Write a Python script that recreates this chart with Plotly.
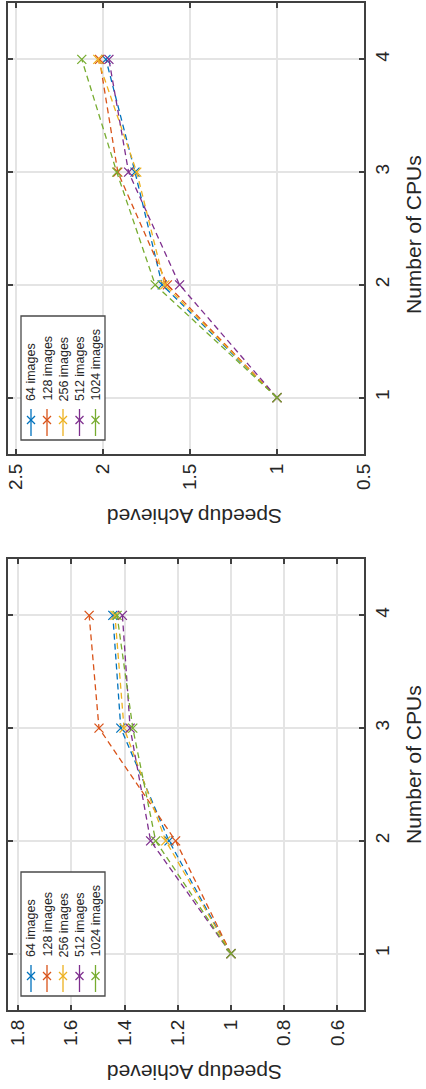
import plotly.graph_objects as go

# ---------------- data ----------------
cpus = [1, 2, 3, 4]
series_names = ["64 images", "128 images", "256 images", "512 images", "1024 images"]
colors = ["#0072BD", "#D95319", "#EDB120", "#7E2F8E", "#77AC30"]

# first experiment (lower panel)
speedup_a = {
    "64 images":   [1.0, 1.233, 1.414, 1.444],
    "128 images":  [1.0, 1.208, 1.496, 1.533],
    "256 images":  [1.0, 1.245, 1.402, 1.436],
    "512 images":  [1.0, 1.302, 1.379, 1.408],
    "1024 images": [1.0, 1.283, 1.369, 1.428],
}
# second experiment (upper panel)
speedup_b = {
    "64 images":   [1.0, 1.660, 1.816, 1.983],
    "128 images":  [1.0, 1.630, 1.915, 2.020],
    "256 images":  [1.0, 1.645, 1.806, 2.030],
    "512 images":  [1.0, 1.560, 1.853, 1.966],
    "1024 images": [1.0, 1.700, 1.921, 2.122],
}
ticks_a = [0.6, 0.8, 1.0, 1.2, 1.4, 1.6, 1.8]
ticklabels_a = ["0.6", "0.8", "1", "1.2", "1.4", "1.6", "1.8"]
ticks_b = [0.5, 1.0, 1.5, 2.0, 2.5]
ticklabels_b = ["0.5", "1", "1.5", "2", "2.5"]
cpu_ticks = [1, 2, 3, 4]
cpu_labels = ["1", "2", "3", "4"]

# ---------------- layout geometry (pixels) ----------------
W, H = 426, 1089
ML, MR, MT, MB = 8, 62, 3, 79
PW, PH = W - ML - MR, H - MT - MB
TOP_BOX = (3, 454)
BOT_BOX = (559, 1010)


def px(xp):
    return (xp - ML) / PW


def py(yp):
    return (H - MB - yp) / PH


FONT = "Liberation Sans, Arial, Helvetica, sans-serif"
TXT = "#262626"
AX = "#404040"
GRID = "#e4e4e4"

fig = go.Figure()

for name, col in zip(series_names, colors):
    for xa, ya, data in (("x", "y", speedup_a), ("x2", "y2", speedup_b)):
        fig.add_trace(go.Scatter(
            x=data[name], y=cpus, xaxis=xa, yaxis=ya, mode="lines+markers",
            name=name, showlegend=False,
            line=dict(color=col, width=1.3, dash="6px,4px"),
            marker=dict(symbol="x-thin", size=9, line=dict(color=col, width=1.3)),
        ))

common_x = dict(
    showgrid=True, gridcolor=GRID, gridwidth=1.5, zeroline=False,
    showline=True, linecolor=AX, linewidth=2, mirror="ticks",
    ticks="inside", ticklen=5, tickwidth=2, tickcolor=AX,
    tickangle=-90, tickfont=dict(family=FONT, size=19, color=TXT),
    automargin=False, fixedrange=True,
)
common_y = dict(
    showgrid=True, gridcolor=GRID, gridwidth=1.5, zeroline=False,
    showline=True, linecolor=AX, linewidth=2, mirror="ticks",
    ticks="inside", ticklen=5, tickwidth=2, tickcolor=AX,
    tickangle=-90, tickfont=dict(family=FONT, size=19, color=TXT),
    automargin=False, fixedrange=True, side="right",
    range=[0.5, 4.5], tickvals=cpu_ticks, ticktext=cpu_labels,
)

fig.update_layout(
    width=W, height=H, margin=dict(l=ML, r=MR, t=MT, b=MB),
    paper_bgcolor="white", plot_bgcolor="white", showlegend=False,
    xaxis=dict(common_x, domain=[0, 1], anchor="y", range=[1.838, 0.5],
               tickvals=ticks_a, ticktext=ticklabels_a),
    yaxis=dict(common_y, domain=[py(BOT_BOX[1]), py(BOT_BOX[0])], anchor="x"),
    xaxis2=dict(common_x, domain=[0, 1], anchor="y2", range=[2.546, 0.5],
                tickvals=ticks_b, ticktext=ticklabels_b),
    yaxis2=dict(common_y, domain=[py(TOP_BOX[1]), py(TOP_BOX[0])], anchor="x2"),
)

annotations = []
shapes = []

# axis titles
for yc in (235, 765):
    annotations.append(dict(text="Number of CPUs", x=px(413), y=py(yc), xref="paper", yref="paper",
                            showarrow=False, textangle=-90, xanchor="center", yanchor="middle",
                            borderpad=0,
                            font=dict(family=FONT, size=21, color=TXT)))
for yc in (517, 1073):
    annotations.append(dict(text="Speedup Achieved", x=px(195), y=py(yc), xref="paper", yref="paper",
                            showarrow=False, textangle=180, xanchor="center", yanchor="middle",
                            borderpad=0,
                            font=dict(family=FONT, size=21, color=TXT)))

# legends (rotated, drawn manually)
col_x = [31, 47, 63, 79.5, 95.5]
for bb in (TOP_BOX[1], BOT_BOX[1]):
    shapes.append(dict(type="rect", xref="paper", yref="paper",
                       x0=px(21), x1=px(105), y0=py(bb - 14), y1=py(bb - 138),
                       fillcolor="white", line=dict(color="#4a4a4a", width=1.3), layer="above"))
    for cx, name, col in zip(col_x, series_names, colors):
        shapes.append(dict(type="line", xref="paper", yref="paper",
                           x0=px(cx), x1=px(cx), y0=py(bb - 45), y1=py(bb - 18),
                           line=dict(color=col, width=1.3), layer="above"))
        my = bb - 34
        for d in (1, -1):
            shapes.append(dict(type="line", xref="paper", yref="paper",
                               x0=px(cx - 4), x1=px(cx + 4), y0=py(my - 4 * d), y1=py(my + 4 * d),
                               line=dict(color=col, width=1.3), layer="above"))
        annotations.append(dict(text=name, x=px(cx), y=py(bb - 52), xref="paper", yref="paper",
                                showarrow=False, textangle=-90, xanchor="center", yanchor="bottom",
                                borderpad=0,
                                font=dict(family=FONT, size=12.5, color=TXT)))

fig.update_layout(annotations=annotations, shapes=shapes)

fig.write_html("out.html", config={"displayModeBar": False})
